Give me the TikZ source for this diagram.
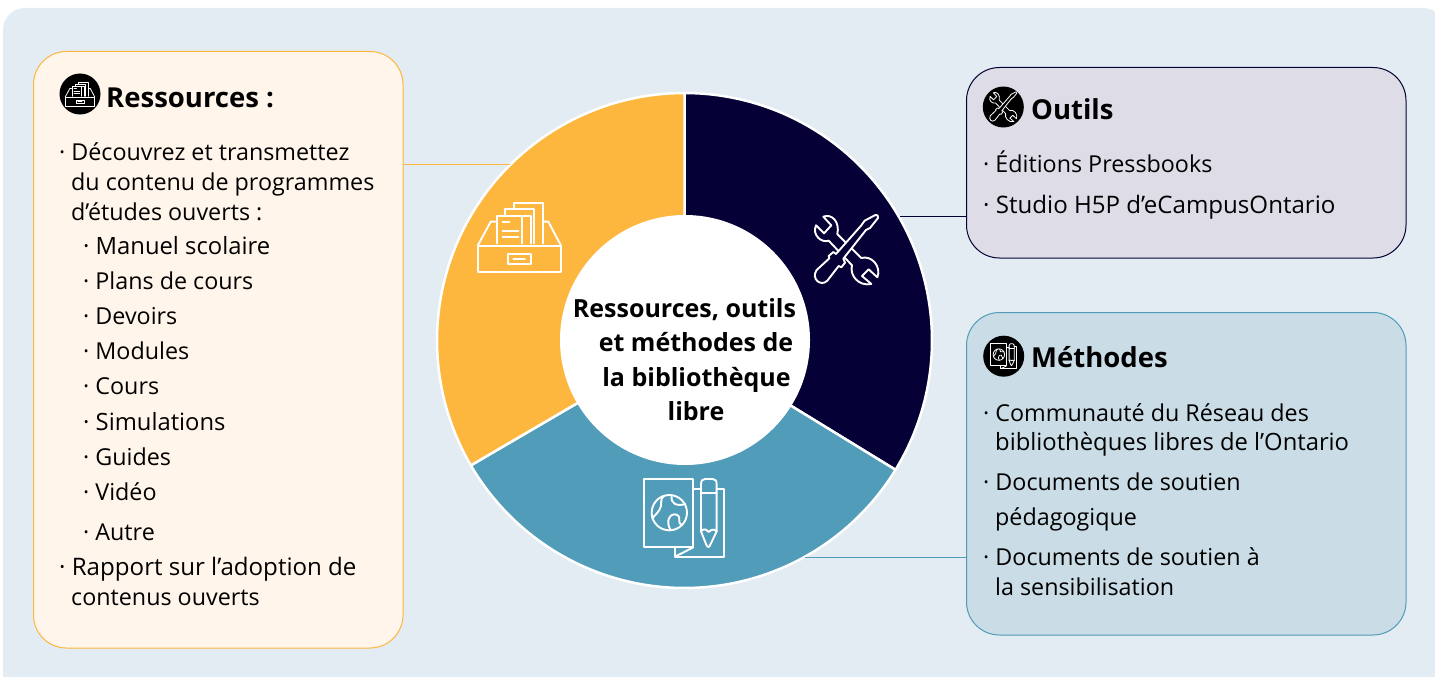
\documentclass[tikz,border=0pt]{standalone}
\usepackage{fontspec}
\setmainfont{Open Sans}
\definecolor{bgc}{HTML}{E3ECF3}
\definecolor{orangec}{HTML}{FDB73E}
\definecolor{navyc}{HTML}{050035}
\definecolor{tealc}{HTML}{519CB8}
\definecolor{resfill}{HTML}{FFF5EB}
\definecolor{outfill}{HTML}{DEDCE7}
\definecolor{metfill}{HTML}{CADCE5}
\newcommand{\iconbg}{navyc}
\newcommand{\drawericon}{%
 \draw (143,197) rectangle (393,277);
 \draw (235,222) rectangle (302,252);
 \draw (250,237) -- (285,237);
 \draw (143,197) -- (182,125) -- (197,125);
 \draw (393,197) -- (355,125) -- (340,125);
 \draw (200,190) -- (200,108) -- (277,108) -- (277,190);
 \draw (225,106) -- (225,88) -- (312,88) -- (312,190);
 \draw (280,108) -- (304,108) -- (304,190);
 \draw (253,86) -- (253,70) -- (338,70) -- (338,190);
 \draw (218,125) -- (238,125);
 \draw (218,152) -- (265,152);
 \draw (218,170) -- (265,170);
}
\newcommand{\toolsicon}{%
 \draw (100,80) .. controls (125,70) and (150,95) .. (142,132) -- (214,204)
   .. controls (245,195) and (275,230) .. (262,262) -- (236,238) -- (216,258) -- (244,282)
   .. controls (205,290) and (178,255) .. (186,226) -- (116,152)
   .. controls (95,160) and (65,135) .. (78,106) -- (102,130) -- (124,106) -- cycle;
 \draw[fill=\iconbg] (256,75) .. controls (262,72) and (266,78) .. (264,84) -- (240,114) -- (228,120)
   -- (160,206) -- (165,218) -- (154,232) -- (146,228)
   -- (112,272) .. controls (92,292) and (62,265) .. (80,240)
   -- (118,205) -- (116,198) -- (130,186) -- (138,192)
   -- (214,106) -- (224,92) -- cycle;
}
\newcommand{\globeicon}{%
 \draw (73,57) rectangle (220,262);
 \draw (222,88) -- (243,88);
 \draw (290,86) -- (313,86) -- (313,290) -- (165,290) -- (165,262);
 \draw (165,290) -- (220,262);
 \draw (243,214) -- (243,72) .. controls (243,62) and (248,57) .. (255,57) -- (278,57)
   .. controls (285,57) and (290,62) .. (290,72) -- (290,214)
   -- (272,252) .. controls (268,264) and (262,264) .. (258,252) -- cycle;
 \draw (243,100) -- (290,100);
 \draw (243,214) .. controls (252,204) and (258,208) .. (266,216) .. controls (274,208) and (282,206) .. (290,214);
 \draw (148,158) circle[radius=53];
 \draw (135,107) .. controls (115,115) and (130,135) .. (118,150) .. controls (108,165) and (100,170) .. (97,175);
 \draw (155,110) .. controls (152,130) and (170,140) .. (196,132);
 \draw (152,210) .. controls (135,185) and (150,155) .. (172,165) .. controls (185,170) and (170,190) .. (185,195);
}
\tikzset{
 panel/.style={rectangle,rounded corners=33pt,line width=1pt,inner sep=0pt,anchor=north west},
 txt/.style={anchor=base west,inner sep=0pt,font=\fontsize{23.3}{28}\selectfont,text=black},
 txtb/.style={anchor=base west,inner sep=0pt,font=\fontsize{23.8}{28}\selectfont,text=black},
 txtc/.style={anchor=base west,inner sep=0pt,font=\fontsize{24.1}{28}\selectfont,text=black},
 head/.style={anchor=base west,inner sep=0pt,font=\fontsize{27.5}{34}\selectfont\bfseries,text=black},
 mid/.style={anchor=base,inner sep=0pt,font=\fontsize{25}{28}\selectfont\bfseries,text=black},
 badge/.style={circle,fill=black,inner sep=0pt,minimum size=41pt},
 link/.style={line width=1pt},
 iconline/.style={white,line width=1.9pt,line join=round,line cap=round},
 smallicon/.style={white,line width=0.8pt,line join=round,line cap=round},
}
\begin{document}
\begin{tikzpicture}[x=1pt,y=-1pt]
\useasboundingbox (0,0) rectangle (1435,677);
\fill[white] (0,0) rectangle (1435,677);
\begin{scope}
\clip (0,0) rectangle (1435,677);
\fill[bgc,rounded corners=22pt] (3,8) rectangle (1445,700);
\fill[bgc,rounded corners=18pt] (3,600) rectangle (100,677);
\fill[bgc] (50,600) rectangle (1435,677);
\end{scope}
% panels
\node[panel,draw=orangec,fill=resfill,minimum width=369.5pt,minimum height=596.5pt] (res) at (33,51) {};
\node[panel,draw=navyc,fill=outfill,minimum width=439.5pt,minimum height=190.5pt] (out) at (966,67) {};
\node[panel,draw=tealc,fill=metfill,minimum width=439.5pt,minimum height=322.5pt] (met) at (966,312) {};
% donut
\begin{scope}[shift={(684.5,340.5)}]
\filldraw[fill=navyc,draw=white,line width=2.5pt,line join=round] (0,0) -- plot[domain=-90:31.5,samples=90] ({247.5*cos(\x)},{247.5*sin(\x)}) -- cycle;
\filldraw[fill=tealc,draw=white,line width=2.5pt,line join=round] (0,0) -- plot[domain=31.5:149.7,samples=90] ({247.5*cos(\x)},{247.5*sin(\x)}) -- cycle;
\filldraw[fill=orangec,draw=white,line width=2.5pt,line join=round] (0,0) -- plot[domain=149.7:270,samples=90] ({247.5*cos(\x)},{247.5*sin(\x)}) -- cycle;
\end{scope}
\node[circle,fill=white,inner sep=0pt,minimum size=250pt] (hub) at (685,340) {};
% connectors
\coordinate (cr) at (510,164);
\coordinate (co) at (900,216);
\coordinate (cm) at (805,557);
\draw[link,orangec] (res.east |- cr) -- (cr);
\draw[link,navyc] (out.west |- co) -- (co);
\draw[link,tealc] (met.west |- cm) -- (cm);
% large icons
\begin{scope}[shift={(430,180)},scale=1/3,iconline] \drawericon \end{scope}
\begin{scope}[shift={(790,190)},scale=1/3,iconline] \toolsicon \end{scope}
\begin{scope}[shift={(620,460)},scale=1/3,iconline] \globeicon \end{scope}
% badges
\node[badge] (b1) at (80,94) {};
\node[badge] (b2) at (1003.3,107) {};
\node[badge] (b3) at (1003.7,356.2) {};
\begin{scope}[shift={(80,94)},scale=0.118,shift={(-268,-172)},smallicon] \drawericon \end{scope}
\renewcommand{\iconbg}{black}
\begin{scope}[shift={(1003.3,107)},scale=0.143,shift={(-170,-180)},smallicon] \toolsicon \end{scope}
\begin{scope}[shift={(1003.7,356.2)},scale=0.108,shift={(-193,-173)},smallicon] \globeicon \end{scope}
% headings
\node[head] (h1) at (106,107) {Ressources :};
\node[head] (h2) at (1031,119) {Outils};
\node[head] (h3) at (1031,367) {Méthodes};
% centre
\node[mid] (m1) at (684.5,317) {Ressources, outils};
\node[mid] (m2) at (696,351) {et méthodes de};
\node[mid] (m3) at (696.5,386) {la bibliothèque};
\node[mid] (m4) at (696,420) {libre};
% resources list
\node[txt] (r1) at (59,160) {· Découvrez et transmettez};
\node[txt] (r2) at (71,190) {du contenu de programmes};
\node[txt] (r3) at (71,220) {d’études ouverts :};
\node[txtb] (r4) at (83,254) {· Manuel scolaire};
\node[txt] (r5) at (83,289) {· Plans de cours};
\node[txt] (r6) at (83,324) {· Devoirs};
\node[txt] (r7) at (83,359) {· Modules};
\node[txt] (r8) at (83,394) {· Cours};
\node[txtb] (r9) at (83,430) {· Simulations};
\node[txt] (r10) at (83,465) {· Guides};
\node[txt] (r11) at (83,500) {· Vidéo};
\node[txt] (r12) at (83,540) {· Autre};
\node[txtc] (r13) at (59,575) {· Rapport sur l’adoption de};
\node[txt] (r14) at (71,605) {contenus ouverts};
% outils list
\node[txt] (o1) at (983,172) {· Éditions Pressbooks};
\node[txtc] (o2) at (983,213) {· Studio H5P d’eCampusOntario};
% methodes list
\node[txt] (t1) at (983,421) {· Communauté du Réseau des};
\node[txtb] (t2) at (995,450) {bibliothèques libres de l’Ontario};
\node[txt] (t3) at (983,490) {· Documents de soutien};
\node[txt] (t4) at (995,525) {pédagogique};
\node[txt] (t5) at (983,565) {· Documents de soutien à};
\node[txt] (t6) at (995,595) {la sensibilisation};
\end{tikzpicture}
\end{document}
